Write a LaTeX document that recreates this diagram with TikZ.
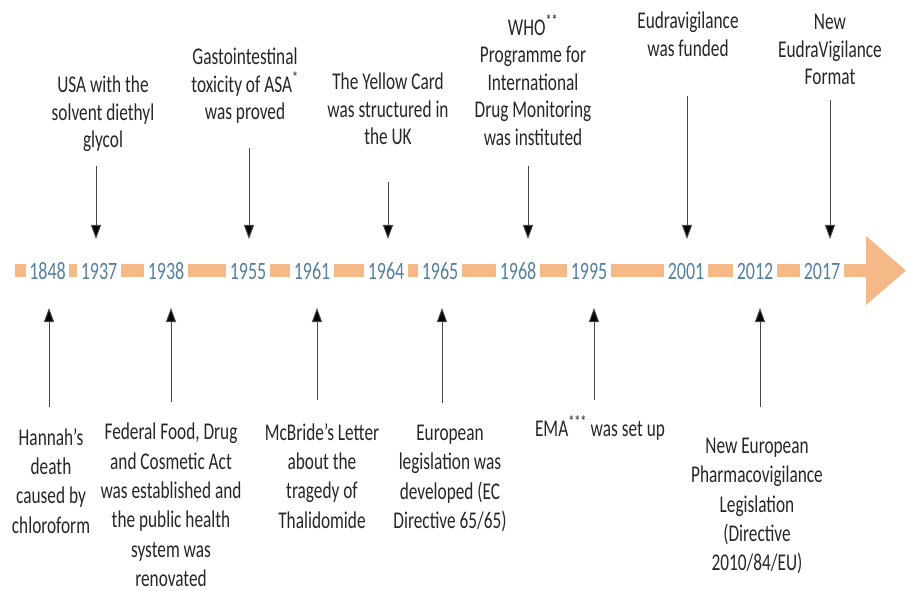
\documentclass[tikz,border=0pt]{standalone}
\usepackage{fontspec}
\setmainfont{Carlito}[FakeStretch=0.72]
\usetikzlibrary{arrows.meta}
\definecolor{barorange}{RGB}{245,185,135}
\definecolor{yearblue}{RGB}{86,128,160}
\definecolor{txtgray}{RGB}{38,38,38}
\definecolor{linegray}{RGB}{70,70,70}
\begin{document}
\begin{tikzpicture}[x=1pt,y=-1pt,
  year/.style={fill=white,inner xsep=3.5pt,inner ysep=0pt,text=yearblue,font=\fontsize{25}{25}\selectfont},
  event/.style={align=center,inner sep=0pt,anchor=north,text=txtgray,font=\fontsize{24}{29.3}\selectfont},
  topevent/.style={event,font=\fontsize{24}{27.5}\selectfont},
  conn/.style={draw=linegray,line width=1pt,-{Triangle[width=10pt,length=14pt,fill=black]}}
]
\useasboundingbox (0,0) rectangle (906,591);
% timeline bar
\fill[barorange] (15,264) rectangle (870,277);
\fill[barorange] (866,236) -- (906,270.5) -- (866,305) -- cycle;
% years
\node[year] (y1848) at (47.5,271) {1848};
\node[year] (y1937) at (99,271) {1937};
\node[year] (y1938) at (166,271) {1938};
\node[year] (y1955) at (248,271) {1955};
\node[year] (y1961) at (312,271) {1961};
\node[year] (y1964) at (386,271) {1964};
\node[year] (y1965) at (440,271) {1965};
\node[year] (y1968) at (518,271) {1968};
\node[year] (y1995) at (589,271) {1995};
\node[year] (y2001) at (686,271) {2001};
\node[year] (y2012) at (755,271) {2012};
\node[year] (y2017) at (822,271) {2017};
% top events
\node[topevent] (usa) at (103,76) {USA with the\\solvent diethyl\\glycol};
\node[topevent] (asa) at (245,48) {Gastointestinal\\toxicity of ASA\textsuperscript{*}\\was proved};
\node[topevent] (yellow) at (388,73) {The Yellow Card\\was structured in\\the UK};
\node[topevent] (who) at (533,14) {WHO\textsuperscript{**}\\Programme for\\International\\Drug Monitoring\\was instituted};
\node[topevent] (eudra) at (688,12) {Eudravigilance\\was funded};
\node[topevent] (newev) at (830,14) {New\\EudraVigilance\\Format};
% bottom events
\node[event] (hannah) at (51,428) {Hannah’s\\death\\caused by\\chloroform};
\node[event] (federal) at (171,423) {Federal Food, Drug\\and Cosmetic Act\\was established and\\the public health\\system was\\renovated};
\node[event] (mcbride) at (322,423) {McBride’s Letter\\about the\\tragedy of\\Thalidomide};
\node[event] (european) at (450,425) {European\\legislation was\\developed (EC\\Directive 65/65)};
\node[event] (ema) at (600,415) {EMA\textsuperscript{***} was set up};
\node[event] (neweu) at (757,438) {New European\\Pharmacovigilance\\Legislation\\(Directive\\2010/84/EU)};
% top connector coordinates
\coordinate (ta1) at (96,166);  \coordinate (tb1) at (96,239);
\coordinate (ta2) at (249,148); \coordinate (tb2) at (249,239);
\coordinate (ta3) at (388,182); \coordinate (tb3) at (388,239);
\coordinate (ta4) at (528,166); \coordinate (tb4) at (528,239);
\coordinate (ta5) at (687,96);  \coordinate (tb5) at (687,239);
\coordinate (ta6) at (830,100); \coordinate (tb6) at (830,239);
\draw[conn] (ta1) -- (tb1);
\draw[conn] (ta2) -- (tb2);
\draw[conn] (ta3) -- (tb3);
\draw[conn] (ta4) -- (tb4);
\draw[conn] (ta5) -- (tb5);
\draw[conn] (ta6) -- (tb6);
% bottom connector coordinates
\coordinate (ba1) at (49,407);  \coordinate (bb1) at (49,308);
\coordinate (ba2) at (171,402); \coordinate (bb2) at (171,308);
\coordinate (ba3) at (317,400); \coordinate (bb3) at (317,308);
\coordinate (ba4) at (442,403); \coordinate (bb4) at (442,308);
\coordinate (ba5) at (594,400); \coordinate (bb5) at (594,308);
\coordinate (ba6) at (760,407); \coordinate (bb6) at (760,308);
\draw[conn] (ba1) -- (bb1);
\draw[conn] (ba2) -- (bb2);
\draw[conn] (ba3) -- (bb3);
\draw[conn] (ba4) -- (bb4);
\draw[conn] (ba5) -- (bb5);
\draw[conn] (ba6) -- (bb6);
\end{tikzpicture}
\end{document}
